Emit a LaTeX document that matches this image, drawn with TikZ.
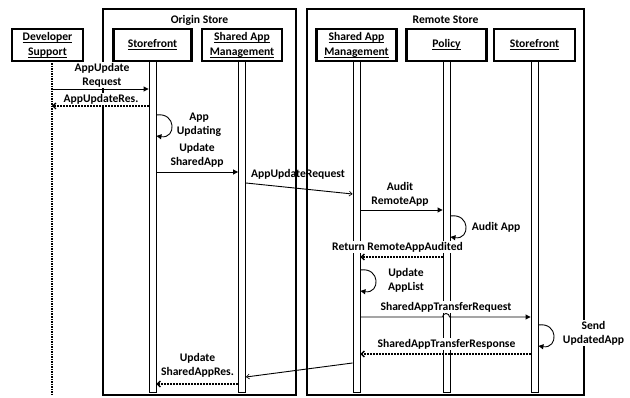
\documentclass[tikz,border=0pt]{standalone}
\usepackage{fontspec}
\setmainfont{Carlito}
\usetikzlibrary{arrows.meta}
\newcommand\hdrul[1]{\setbox0\hbox{#1}\rlap{\vrule width\wd0 height -1.4pt depth 2.3pt}\box0}
\begin{document}
\begin{tikzpicture}[x=1pt,y=-1pt,
  lbl/.style={font=\bfseries\fontsize{11.6}{14}\selectfont, align=center, inner sep=1pt, fill=white},
  lblnf/.style={font=\bfseries\fontsize{11.6}{14}\selectfont, align=center, inner sep=1pt},
  hdr/.style={draw, line width=2.2pt, fill=white, minimum width=78pt, minimum height=32pt, inner sep=0pt, align=center, font=\bfseries\fontsize{11.6}{15}\selectfont},
  store/.style={draw, line width=1.2pt, inner sep=0pt},
  bar/.style={draw, fill=white, line width=0.9pt, minimum width=7pt, minimum height=331pt, inner sep=0pt},
  call/.style={line width=0.9pt, -{Triangle[length=5pt,width=5pt]}},
  ret/.style={line width=1.3pt, dash pattern=on 2pt off 1pt, -{Straight Barb[length=3pt,width=6pt]}},
  xmsg/.style={line width=0.9pt, -{Straight Barb[length=3pt,width=5pt,line width=0.6pt]}},
  selfloop/.style={line width=0.9pt, -{Triangle[length=5pt,width=5pt]}},
  lifeline/.style={line width=1.6pt, dash pattern=on 1.5pt off 1pt}
]
\useasboundingbox (0,0) rectangle (630,398);

% store frames
\node[store, minimum width=193pt, minimum height=386pt] (origin) at (199.5,202) {};
\node[store, minimum width=277pt, minimum height=386pt] (remote) at (445.5,202) {};
\node[lblnf] (otitle) at (199.5,20) {Origin Store};
\node[lblnf] (rtitle) at (445.5,20) {Remote Store};

% lifelines
\coordinate (dstop) at (52,61);
\coordinate (dsbot) at (52,395);
\draw[lifeline] (dstop) -- (dsbot);
\node[bar] (sf) at (152.5,226.5) {};
\node[bar] (osam) at (242,226.5) {};
\node[bar] (rsam) at (356.5,226.5) {};
\node[bar] (pol) at (446.5,226.5) {};
\node[bar] (rsf) at (534.5,226.5) {};

% headers
\node[hdr, minimum width=71pt] (ds) at (47.5,45) {\hdrul{Developer}\\\hdrul{Support}};
\node[hdr] (sfh) at (152.5,45) {\hdrul{Storefront}};
\node[hdr, minimum width=80pt] (osamh) at (242,45) {\hdrul{Shared App}\\\hdrul{Management}};
\node[hdr, minimum width=80pt] (rsamh) at (356.5,45) {\hdrul{Shared App}\\\hdrul{Management}};
\node[hdr, minimum width=80pt] (polh) at (446.5,45) {\hdrul{Policy}};
\node[hdr, minimum width=81pt] (rsfh) at (534.5,45) {\hdrul{Storefront}};

% message levels
\coordinate (m1) at (0,89);
\coordinate (m2) at (0,106);
\coordinate (m3) at (0,172);
\coordinate (m4a) at (0,183);
\coordinate (m4b) at (0,194);
\coordinate (m5) at (0,210);
\coordinate (m6) at (0,257);
\coordinate (m7) at (0,317);
\coordinate (m8) at (0,354);
\coordinate (m9a) at (0,363);
\coordinate (m9b) at (0,377);
\coordinate (m10) at (0,384);
\coordinate (l1a) at (0,115);
\coordinate (l1b) at (0,136);
\coordinate (l2a) at (0,216);
\coordinate (l2b) at (0,237);
\coordinate (l3a) at (0,270);
\coordinate (l3b) at (0,291);
\coordinate (l4a) at (0,325);
\coordinate (l4b) at (0,346);

% messages
\draw[call] (dstop |- m1) -- (sf.west |- m1);
\draw[ret] (sf.west |- m2) -- (dstop |- m2);
\draw[selfloop] (sf.east |- l1a) .. controls +(20,-3) and +(20,3) .. (sf.east |- l1b);
\draw[call] (sf.east |- m3) -- (osam.west |- m3);
\node[lblnf] (lau) at (298,174) {AppUpdateRequest};
\draw[xmsg] (osam.east |- m4a) -- (rsam.west |- m4b);
\draw[call] (rsam.east |- m5) -- (pol.west |- m5);
\draw[selfloop] (pol.east |- l2a) .. controls +(20,-3) and +(20,3) .. (pol.east |- l2b);
\draw[ret] (pol.west |- m6) -- (rsam.east |- m6);
\draw[selfloop] (rsam.east |- l3a) .. controls +(20,-3) and +(20,3) .. (rsam.east |- l3b);
\draw[call] (rsam.east |- m7) -- (pol.west |- m7) arc[start angle=180, end angle=0, radius=3.5pt] -- (rsf.west |- m7);
\draw[selfloop] (rsf.east |- l4a) .. controls +(20,-3) and +(20,3) .. (rsf.east |- l4b);
\draw[ret] (rsf.west |- m8) -- (rsam.east |- m8);
\draw[xmsg] (rsam.west |- m9a) -- (osam.east |- m9b);
\draw[ret] (osam.west |- m10) -- (sf.east |- m10);

% labels
\node[lbl] (la1) at (102,75) {AppUpdate\\Request};
\node[lbl] (la2) at (101,99) {AppUpdateRes.};
\node[lbl] (la3) at (199,125) {App\\Updating};
\node[lbl] (la4) at (197,155) {Update\\SharedApp};
\node[lbl] (la5) at (400,194) {Audit\\RemoteApp};
\node[lbl] (la6) at (496,227) {Audit App};
\node[lbl] (la7) at (397.5,247) {Return RemoteAppAudited};
\node[lbl] (la8) at (406,280.5) {Update\\AppList};
\node[lbl] (la9) at (446,307) {SharedAppTransferRequest};
\node[lbl] (la10) at (593.5,333) {Send\\UpdatedApp};
\node[lbl] (la11) at (446.5,344) {SharedAppTransferResponse};
\node[lbl] (la12) at (197.5,365) {Update\\SharedAppRes.};
\end{tikzpicture}
\end{document}
